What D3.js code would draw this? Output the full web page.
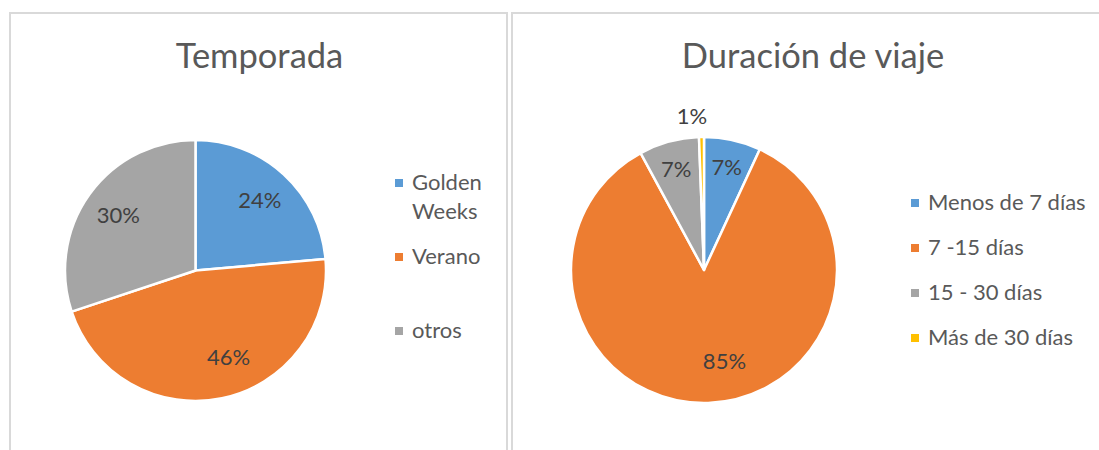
<!DOCTYPE html>
<html>
<head>
<meta charset="utf-8">
<script src="https://cdn.jsdelivr.net/npm/d3@7"></script>
<style>
  html, body { margin: 0; padding: 0; background: #ffffff; }
  svg { display: block; font-family: Lato, "Open Sans", sans-serif; }
</style>
</head>
<body>
<svg id="chart" width="1099" height="450"></svg>
<script>
// ---- Data ----
const temporadaTitle = "Temporada";
const temporadaCategories = [["Golden", "Weeks"], ["Verano"], ["otros"]];
const temporadaValues = [23.6, 46.3, 30.1];

const duracionTitle = "Duración de viaje";
const duracionCategories = [["Menos de 7 días"], ["7 -15 días"], ["15 - 30 días"], ["Más de 30 días"]];
const duracionValues = [6.9, 85.2, 7.3, 0.6];

const sliceColors = ["#5B9BD5", "#ED7D31", "#A5A5A5", "#FFC000"];

// ---- Drawing ----
const svg = d3.select("#chart");

function drawPanel(cfg) {
  const g = svg.append("g");
  g.append("rect")
    .attr("x", cfg.panel[0]).attr("y", cfg.panel[1])
    .attr("width", cfg.panel[2]).attr("height", cfg.panel[3])
    .attr("fill", "#ffffff").attr("stroke", "#D9D9D9").attr("stroke-width", 2);

  g.append("text")
    .attr("x", cfg.titleX).attr("y", cfg.titleY)
    .attr("text-anchor", "middle")
    .attr("font-size", cfg.titleSize)
    .attr("fill", "#595959")
    .text(cfg.title);

  const total = d3.sum(cfg.values);
  const pie = d3.pie().sort(null).value(d => d)(cfg.values);
  const arc = d3.arc().innerRadius(0).outerRadius(cfg.r);
  const color = d3.scaleOrdinal().domain(d3.range(cfg.values.length)).range(sliceColors);

  const pg = g.append("g").attr("transform", `translate(${cfg.cx},${cfg.cy})`);
  pg.selectAll("path").data(pie).join("path")
    .attr("d", arc)
    .attr("fill", (d, i) => color(i))
    .attr("stroke", "#ffffff")
    .attr("stroke-width", 2.5)
    .attr("stroke-linejoin", "round");

  const fmt = v => Math.round(v / total * 100) + "%";
  pg.selectAll("text.lbl").data(pie).join("text")
    .attr("class", "lbl")
    .attr("transform", d => {
      const frac = (d.endAngle - d.startAngle) / (2 * Math.PI);
      const k = frac < 0.02 ? cfg.outerLabelK : (frac > 0.4 ? cfg.bigLabelK : cfg.labelK);
      const rr = cfg.r * k;
      const a = (d.startAngle + d.endAngle) / 2 + (frac > 0.4 ? cfg.bigShift : 0) + (frac < 0.02 ? cfg.smallShift : 0);
      return `translate(${Math.sin(a) * rr},${-Math.cos(a) * rr})`;
    })
    .attr("text-anchor", "middle")
    .attr("dy", "0.36em")
    .attr("font-size", cfg.labelSize)
    .attr("fill", "#404040")
    .text(d => fmt(d.value));

  const lg = g.append("g");
  const items = lg.selectAll("g").data(cfg.categories).join("g")
    .attr("transform", (d, i) => `translate(${cfg.legendX},${cfg.legendY + i * cfg.legendStep})`);
  items.append("rect")
    .attr("x", 0).attr("y", -4).attr("width", 8).attr("height", 8)
    .attr("fill", (d, i) => color(i));
  items.append("text")
    .attr("font-size", cfg.legendSize)
    .attr("fill", "#595959")
    .selectAll("tspan").data(d => d).join("tspan")
    .attr("x", 17)
    .attr("y", (d, j) => 7 + j * cfg.legendLine)
    .text(d => d);
}

drawPanel({
  panel: [10, 13, 497, 460],
  title: temporadaTitle, titleX: 259.5, titleY: 67.5, titleSize: 34.5,
  values: temporadaValues, categories: temporadaCategories,
  cx: 195.5, cy: 270.5, r: 130.5,
  labelK: 0.73, bigLabelK: 0.71, bigShift: -0.16, outerLabelK: 1.16, smallShift: 0, labelSize: 22,
  legendX: 395, legendY: 183, legendStep: 74, legendLine: 28.5, legendSize: 22
});

drawPanel({
  panel: [512, 13, 620, 460],
  title: duracionTitle, titleX: 813, titleY: 67.5, titleSize: 34.5,
  values: duracionValues, categories: duracionCategories,
  cx: 704, cy: 270, r: 133,
  labelK: 0.79, bigLabelK: 0.7, bigShift: -0.19, outerLabelK: 1.16, smallShift: -0.06, labelSize: 22,
  legendX: 911, legendY: 203, legendStep: 45, legendLine: 28, legendSize: 22
});
</script>
</body>
</html>
